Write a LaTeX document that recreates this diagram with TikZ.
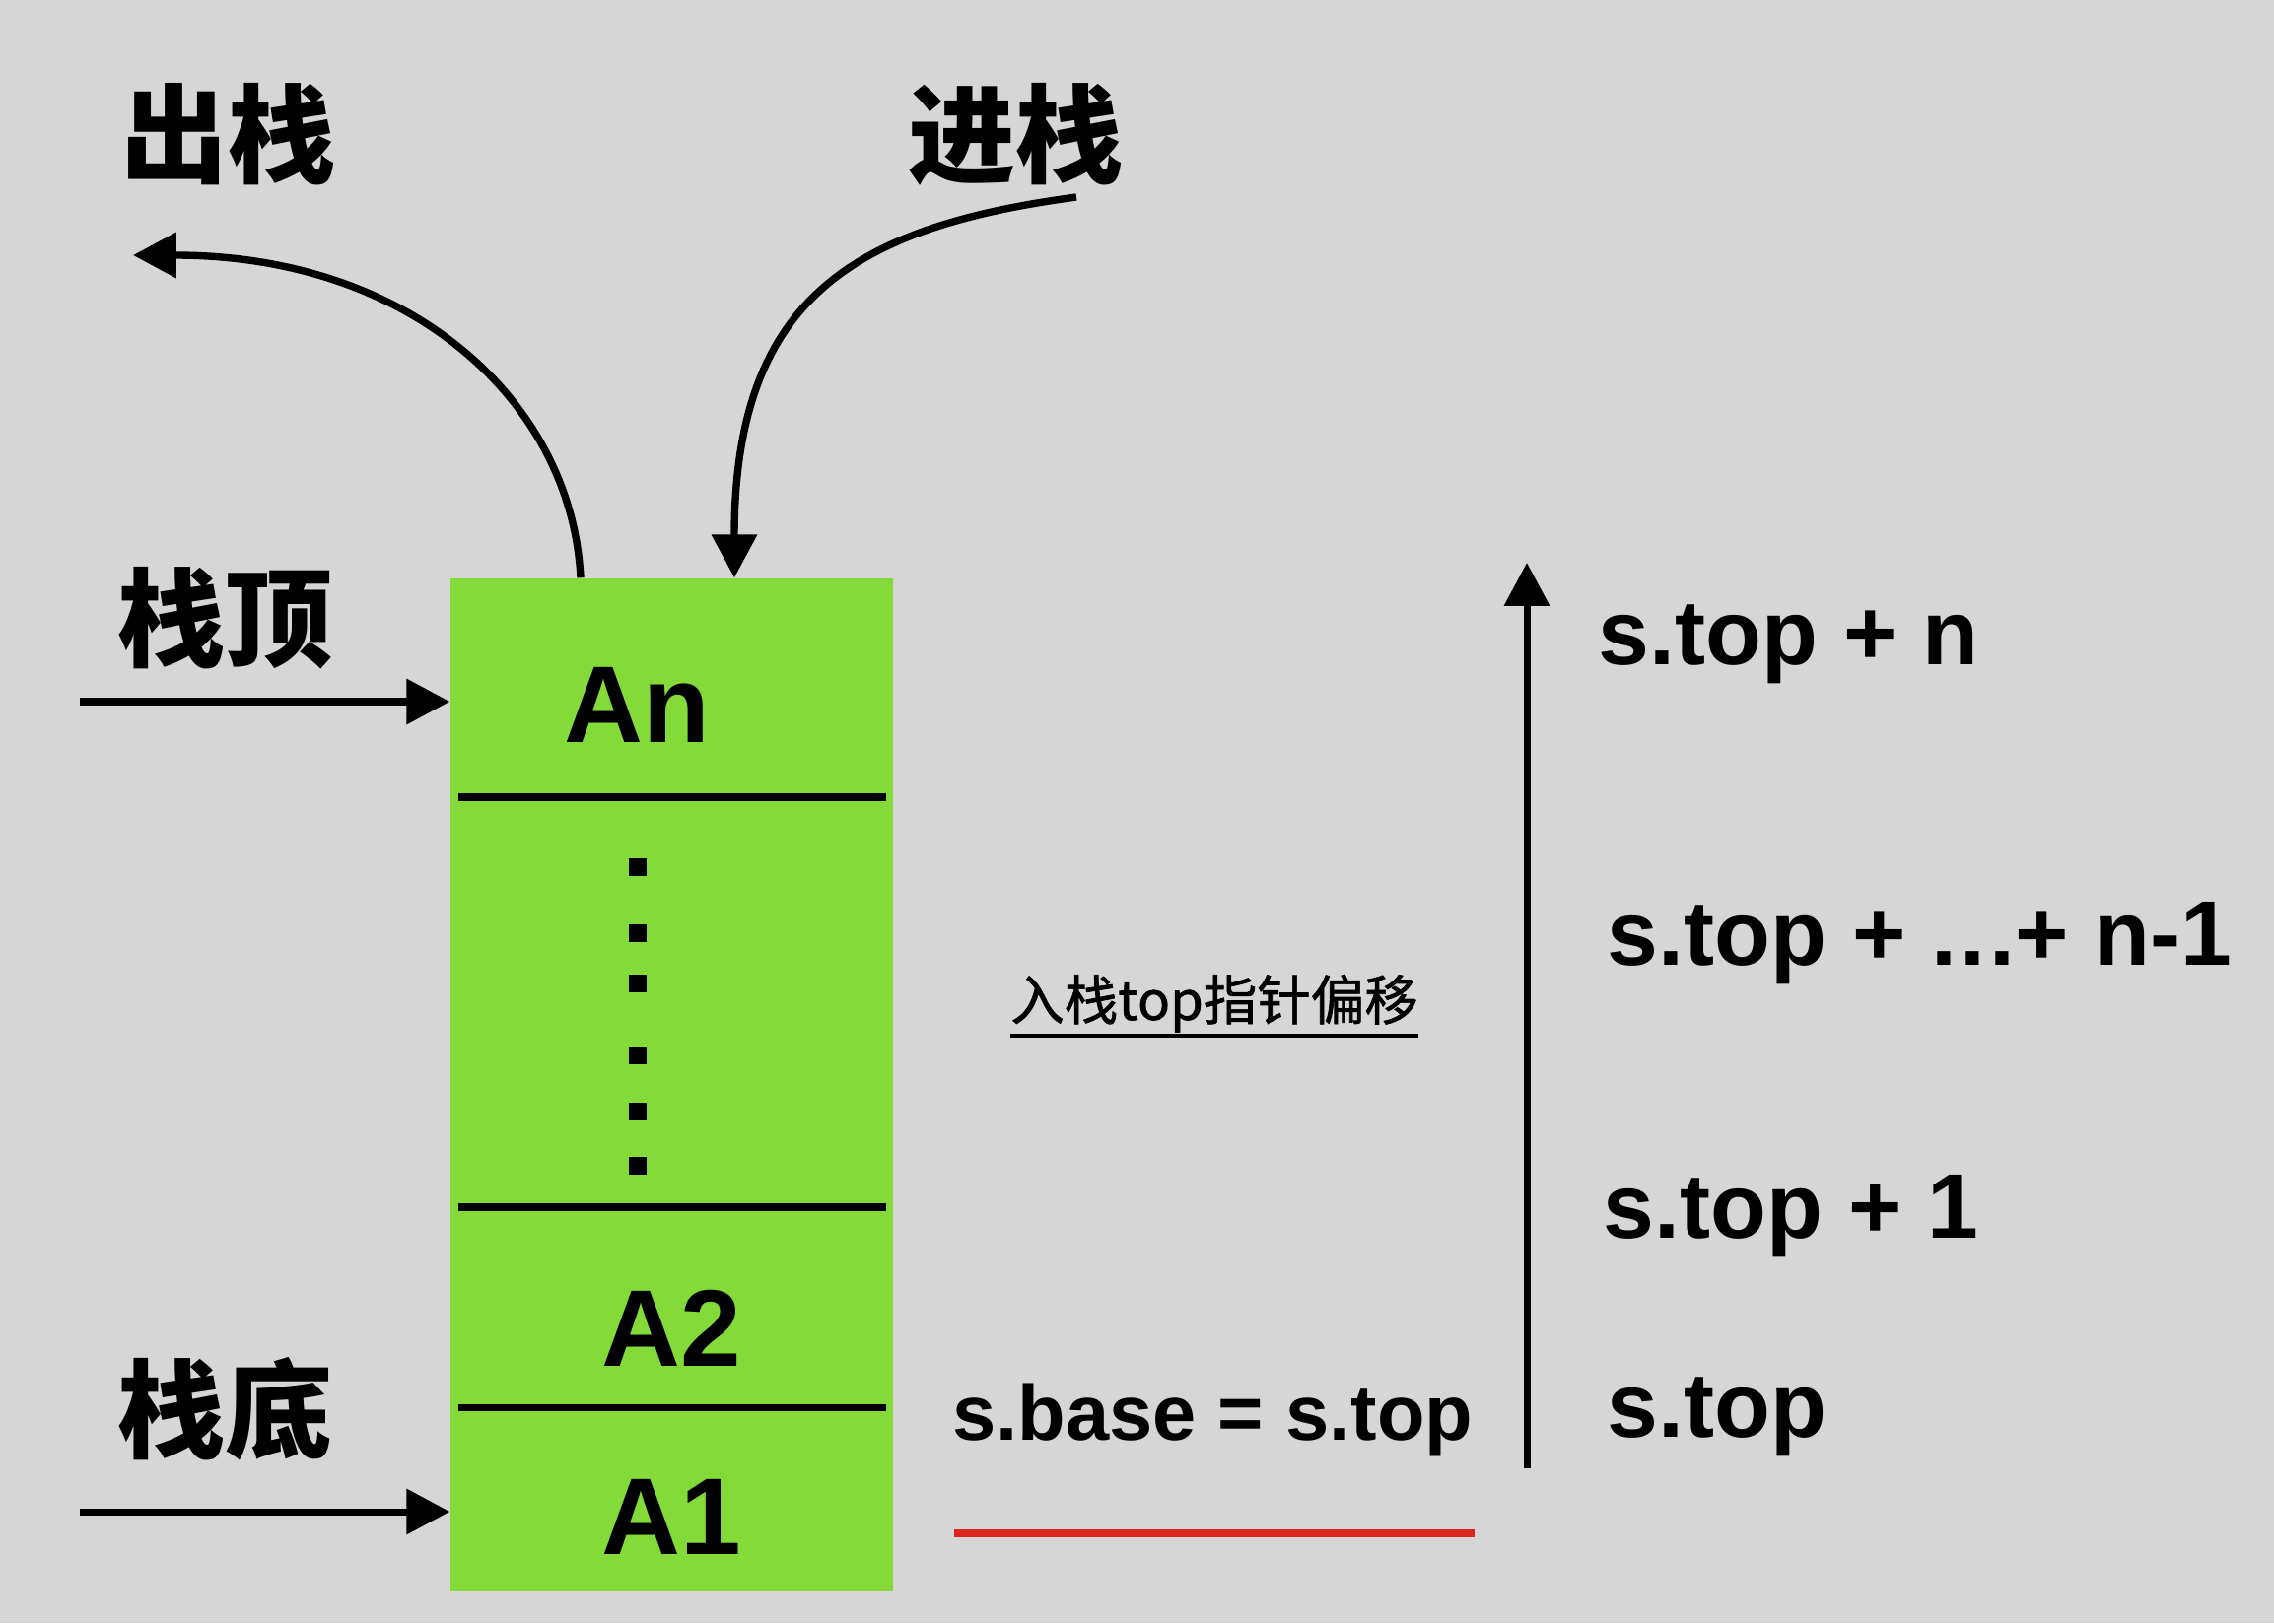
\documentclass[tikz,border=0pt]{standalone}
\usepackage{fontspec}
\setmainfont{Liberation Sans}
\newfontfamily\cjk{Noto Sans CJK SC}
\newfontfamily\cjkmed[FakeBold=1.2]{Noto Sans CJK SC}
\usetikzlibrary{arrows.meta, positioning, calc}
\definecolor{bggray}{RGB}{214,214,214}
\definecolor{stackgreen}{RGB}{132,218,56}
\definecolor{basered}{RGB}{221,38,30}

\begin{document}
\begin{tikzpicture}[
    >=Stealth,
    arr/.style={-{Triangle[length=12.5pt,width=12.8pt]}, line width=2pt},
    divider/.style={line width=2pt},
    redline/.style={basered, line width=2.4pt},
    stackbox/.style={fill=stackgreen, minimum width=4.49cm, minimum height=10.28cm, inner sep=0pt},
    cellname/.style={font=\fontsize{31.5}{36}\selectfont\bfseries, anchor=base, inner sep=0pt},
    ptrlbl/.style={font=\fontsize{26.5}{32}\selectfont\bfseries, anchor=base west, inner sep=0pt},
    cnlbl/.style={font=\cjk\fontsize{31}{36}\selectfont\bfseries, inner sep=0pt},
    dotsq/.style={fill=black, minimum size=0.175cm, inner sep=0pt},
]
% background
\fill[bggray] (0,0) rectangle (23.07,16.47);
\useasboundingbox (0,0) rectangle (23.07,16.47);
% === Stack ===
\node[stackbox] (stk) at (6.815,5.46) {};
\draw[divider] (4.65,8.38) -- (8.99,8.38);
\draw[divider] (4.65,4.22) -- (8.99,4.22);
\draw[divider] (4.65,2.19) -- (8.99,2.19);
\node[cellname] (an) at (6.46,8.94) {An};
\node[cellname] (a2) at (6.815,2.61) {A2};
\node[cellname] (a1) at (6.815,0.70) {A1};
\foreach \y [count=\i] in {7.67, 7.00, 6.49, 5.76, 5.19, 4.64} {
    \node[dotsq] (d\i) at (6.47,\y) {};
}
% === Labels on the left ===
\node[cnlbl] (pop) at (2.31,15.11) {出栈};
\node[cnlbl] (push) at (10.30,15.11) {进栈};
\node[cnlbl] (toplbl) at (2.28,10.20) {栈顶};
\node[cnlbl] (botlbl) at (2.28,2.17) {栈底};
%
\coordinate (topin) at (0.81,9.35);
\coordinate (botin) at (0.81,1.13);
\draw[arr] (topin) -- (topin -| stk.west);
\draw[arr] (botin) -- (botin -| stk.west);
% pop / push curves
\coordinate (popend) at (1.35,13.88);
\coordinate (pushstart) at (10.92,14.47);
\draw[arr, line width=2.1pt] ([xshift=-0.925cm]stk.north) .. controls (5.80,12.37) and (4.20,13.88) .. (popend);
\draw[arr, line width=2.1pt] (pushstart) .. controls (8.70,14.17) and (7.45,13.47) .. ([xshift=0.635cm]stk.north);
% === Middle ===
\node[font=\cjkmed\fontsize{15.5}{18}\selectfont, anchor=base, inner sep=0pt] (hint) at (12.32,6.12) {入栈top指针偏移};
\draw[line width=1pt] ([yshift=-0.16cm]hint.base west) -- ([yshift=-0.16cm]hint.base east);
\node[font=\fontsize{22.6}{27}\selectfont\bfseries, anchor=base west, inner sep=0pt] (eq) at (9.66,1.86) {s.base = s.top};
\coordinate (rl) at (9.68,0.91);
\draw[redline] (rl) -- ++(5.28,0);
% === Right axis ===
\coordinate (axbot) at (15.49,1.57);
\coordinate (axtop) at (15.49,10.76);
\draw[arr] (axbot) -- (axtop);
\node[ptrlbl] (p0) at (16.30,1.89) {s.top};
\node[ptrlbl] (p1) at (16.26,3.91) {s.top + 1};
\node[ptrlbl] (pm) at (16.30,6.68) {s.top + .\kern1pt.\kern1pt.+ n-1};
\node[ptrlbl] (pn) at (16.21,9.73) {s.top + n};
\end{tikzpicture}
\end{document}
